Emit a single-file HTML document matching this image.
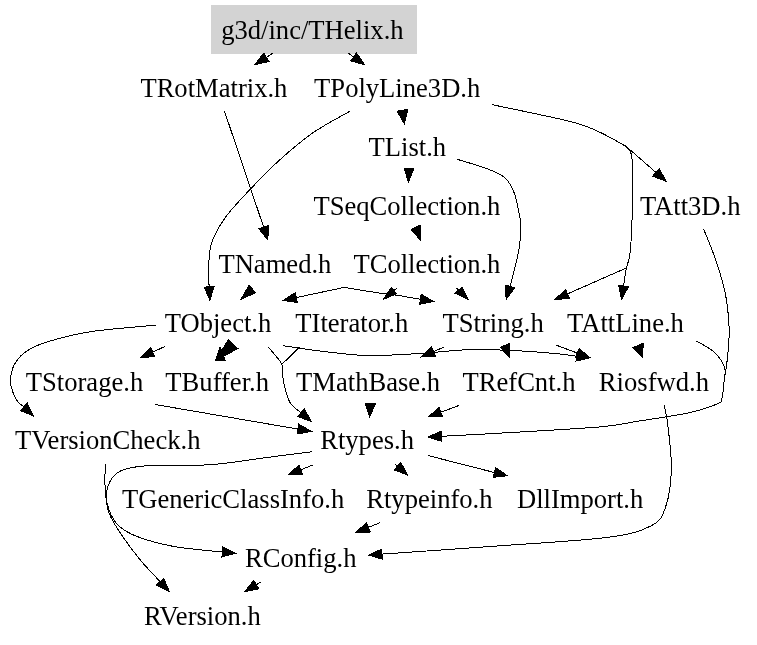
<!DOCTYPE html>
<html><head><meta charset="utf-8"><style>
html,body{margin:0;padding:0;background:#fff;width:757px;height:645px;overflow:hidden}
svg{display:block;will-change:transform}
text{font-family:"Liberation Serif",serif;font-size:26.6px;fill:#000}
path{fill:none;stroke:#000;stroke-width:1;shape-rendering:crispEdges}
polygon{fill:#000;stroke:#000;stroke-width:1;shape-rendering:crispEdges}
</style></head><body>
<svg width="757" height="645" viewBox="0 0 757 645">
<rect x="211" y="5" width="206" height="49" fill="#d3d3d3"/>
<text x="312.4" y="38.6" text-anchor="middle">g3d/inc/THelix.h</text>
<text x="213.9" y="96.6" text-anchor="middle">TRotMatrix.h</text>
<text x="397.2" y="96.6" text-anchor="middle">TPolyLine3D.h</text>
<text x="407.3" y="155.6" text-anchor="middle">TList.h</text>
<text x="406.9" y="214.6" text-anchor="middle">TSeqCollection.h</text>
<text x="690.2" y="214.6" text-anchor="middle">TAtt3D.h</text>
<text x="274.9" y="272.6" text-anchor="middle">TNamed.h</text>
<text x="426.9" y="272.6" text-anchor="middle">TCollection.h</text>
<text x="218.0" y="331.6" text-anchor="middle">TObject.h</text>
<text x="295.3" y="331.6">TIterator.h</text>
<text x="493.2" y="331.6" text-anchor="middle">TString.h</text>
<text x="625.5" y="331.6" text-anchor="middle">TAttLine.h</text>
<text x="84.5" y="390.6" text-anchor="middle">TStorage.h</text>
<text x="217.2" y="390.6" text-anchor="middle">TBuffer.h</text>
<text x="368.1" y="390.6" text-anchor="middle">TMathBase.h</text>
<text x="519.0" y="390.6" text-anchor="middle">TRefCnt.h</text>
<text x="653.9" y="390.6" text-anchor="middle">Riosfwd.h</text>
<text x="107.8" y="448.6" text-anchor="middle">TVersionCheck.h</text>
<text x="367.1" y="448.6" text-anchor="middle">Rtypes.h</text>
<text x="233.1" y="507.6" text-anchor="middle">TGenericClassInfo.h</text>
<text x="429.4" y="507.6" text-anchor="middle">Rtypeinfo.h</text>
<text x="580.1" y="507.6" text-anchor="middle">DllImport.h</text>
<text x="300.7" y="566.6" text-anchor="middle">RConfig.h</text>
<text x="202.4" y="624.6" text-anchor="middle">RVersion.h</text>
<path d="M272.8,53.2 L266.4,57.3"/>
<path d="M348.2,53.2 L353.5,56.9"/>
<path d="M224.5,111.2 L263.6,227.1"/>
<path d="M350.0,111.2 C343.8,114.8 324.7,124.6 312.8,132.9 C300.9,141.2 289.0,151.5 278.7,160.8 C268.4,170.1 259.6,179.4 250.8,188.7 C242.0,198.0 232.4,207.8 226.0,216.6 C219.6,225.4 214.9,234.2 212.1,241.4 C209.3,248.6 209.6,254.4 209.0,260.0 C208.4,265.6 208.5,270.5 208.5,275.0 C208.5,279.5 209.0,284.9 209.2,286.8"/>
<path d="M456.8,159.1 C464.8,162.2 494.4,168.5 504.9,177.9 C515.4,187.3 517.1,204.4 519.6,215.6 C522.1,226.8 520.7,235.2 519.6,245.0 C518.5,254.8 514.9,267.4 513.3,274.3 C511.7,281.2 510.4,284.4 509.9,286.4"/>
<path d="M492.3,104.7 C505.2,107.5 552.0,116.9 569.8,121.4 C587.6,125.9 589.7,127.7 599.1,131.9 C608.5,136.1 621.8,144.1 626.3,146.5"/>
<path d="M626.3,146.5 L655.9,172.4"/>
<path d="M626.3,146.5 C627.2,148.2 630.8,149.0 631.8,157.0 C632.8,165.0 632.8,179.3 632.6,194.7 C632.4,210.0 631.5,236.9 630.5,249.1 C629.5,261.3 627.0,264.9 626.3,268.0"/>
<path d="M626.3,268.0 L623.5,286.1"/>
<path d="M626.3,268.0 L567.5,293.9"/>
<path d="M703.5,228.9 C705.3,233.4 710.6,245.3 714.2,255.7 C717.8,266.1 722.4,279.5 724.9,291.4 C727.4,303.3 728.6,316.3 729.1,327.0 C729.6,337.7 728.5,346.7 727.7,355.6 C726.9,364.5 725.2,373.4 724.2,380.5 C723.2,387.6 723.1,394.5 722.0,398.4 C720.9,402.3 723.2,401.3 717.7,403.7 C712.2,406.1 702.9,409.7 689.2,412.7 C675.5,415.7 650.6,419.2 635.7,421.6 C620.8,424.0 619.3,425.2 600.0,426.9 C580.7,428.6 546.4,430.4 520.0,432.0 C493.6,433.6 454.5,435.6 441.4,436.3"/>
<path d="M695.6,340.6 C698.7,342.5 709.4,347.7 714.2,352.0 C719.0,356.3 722.4,362.1 724.2,366.3 C726.0,370.5 724.8,375.2 724.9,377.0"/>
<path d="M380.0,293.2 L344.1,287.4 L296.3,297.6"/>
<path d="M344.1,287.4 L380.0,293.2 L396.2,295.1 L420.4,299.2"/>
<path d="M396.6,288.5 L393.0,291.0"/>
<path d="M456.5,288.1 L459.0,290.5"/>
<path d="M165.1,346.4 L152.7,352.1"/>
<path d="M156.1,325.1 C145.0,326.2 107.9,329.0 89.8,331.8 C71.7,334.6 57.7,338.7 47.2,341.9 C36.7,345.1 32.1,347.5 26.9,350.9 C21.6,354.3 18.4,358.1 15.7,362.2 C13.0,366.3 11.6,371.5 10.8,375.6 C10.1,379.7 10.2,382.8 11.2,386.9 C12.2,391.0 14.7,397.0 16.8,400.3 C18.9,403.6 22.7,405.8 23.8,406.9"/>
<path d="M268.1,346.9 C270.4,349.8 279.5,359.4 281.9,364.3 C284.3,369.2 282.0,371.6 282.7,376.2 C283.4,380.8 284.6,387.4 286.0,392.0 C287.4,396.6 288.5,400.6 291.0,404.0 C293.5,407.4 299.4,411.2 301.1,412.7"/>
<path d="M299.4,347.3 L281.9,364.3"/>
<path d="M283.1,345.7 C289.2,346.6 306.1,349.4 320.0,351.0 C333.9,352.6 350.1,355.1 366.8,355.5 C383.5,355.9 403.5,354.4 420.0,353.5 C436.5,352.6 451.3,350.3 466.0,349.8 C480.7,349.3 493.5,349.7 508.3,350.3 C523.1,350.9 543.6,352.5 555.0,353.5 C566.4,354.5 573.0,355.7 576.6,356.2"/>
<path d="M443.6,347.2 L433.5,351.6"/>
<path d="M556.3,345.2 L577.4,353.1"/>
<path d="M154.6,404.4 L298.1,429.1"/>
<path d="M459.4,405.3 L440.9,412.2"/>
<path d="M664.2,405.5 C664.8,408.5 666.4,412.8 667.6,423.3 C668.8,433.8 671.7,454.6 671.4,468.5 C671.1,482.4 669.0,497.1 665.7,506.6 C662.4,516.1 661.4,520.5 651.5,525.6 C641.6,530.8 634.4,533.9 606.3,537.5 C578.2,541.1 520.1,544.2 482.7,547.0 C445.3,549.8 398.8,553.0 382.0,554.1"/>
<path d="M311.9,451.7 C304.5,452.6 284.5,455.2 267.6,457.4 C250.7,459.6 229.5,463.4 210.5,464.7 C191.5,466.0 167.7,464.6 153.4,465.4 C139.1,466.1 131.8,467.1 124.9,469.2 C118.0,471.3 115.3,473.9 112.2,478.0 C109.1,482.1 107.0,488.6 106.5,493.9 C106.0,499.2 107.0,504.5 109.0,509.8 C111.0,515.1 113.7,521.1 118.5,525.6 C123.3,530.1 128.6,533.3 137.6,536.7 C146.6,540.1 160.3,543.9 172.4,546.2 C184.5,548.6 201.7,549.8 210.0,550.8 C218.3,551.8 220.3,551.8 222.4,551.9"/>
<path d="M105.2,463.8 C105.2,468.0 104.6,480.9 105.2,489.1 C105.8,497.3 106.2,505.2 109.0,512.9 C111.8,520.6 116.4,527.2 121.7,535.1 C127.0,543.0 134.3,552.7 140.7,560.5 C147.1,568.3 156.9,578.1 160.2,581.7"/>
<path d="M313.5,464.7 L300.7,469.9"/>
<path d="M394.6,463.6 L398.0,466.5"/>
<path d="M427.9,455.5 L494.3,472.5"/>
<path d="M379.9,522.8 L368.3,527.4"/>
<path d="M261.2,581.7 L256.3,584.7"/>
<polygon points="255.0,64.6 269.1,61.5 263.7,53.1"/>
<polygon points="364.6,64.6 356.4,52.8 350.7,61.0"/>
<polygon points="267.9,239.9 268.3,225.5 258.8,228.7"/>
<polygon points="209.9,300.3 214.1,286.5 204.2,287.1"/>
<polygon points="404.3,123.8 397.1,111.2 408.0,109.4"/>
<polygon points="408.5,182.0 404.0,168.2 414.0,168.2"/>
<polygon points="420.9,240.9 411.1,229.3 420.6,225.1"/>
<polygon points="506.2,299.4 514.7,287.8 505.1,285.0"/>
<polygon points="666.1,181.3 659.2,168.6 652.6,176.2"/>
<polygon points="621.5,299.4 628.5,286.8 618.6,285.3"/>
<polygon points="555.2,299.4 569.6,298.5 565.5,289.4"/>
<polygon points="427.9,437.0 441.7,441.3 441.1,431.3"/>
<polygon points="240.9,299.5 249.1,285.2 255.4,292.7"/>
<polygon points="283.1,300.4 297.3,302.5 295.3,292.7"/>
<polygon points="433.7,301.5 421.2,294.3 419.6,304.2"/>
<polygon points="383.4,299.4 391.5,287.4 396.2,293.9"/>
<polygon points="468.5,299.7 455.0,293.2 461.9,287.4"/>
<polygon points="140.4,357.7 154.8,356.6 150.6,347.5"/>
<polygon points="215.6,360.7 228.6,339.4 237.8,348.5"/>
<polygon points="215.6,360.7 220.0,346.9 225.1,360.4"/>
<polygon points="33.7,416.1 27.3,403.2 20.4,410.5"/>
<polygon points="311.3,421.5 304.3,408.9 297.8,416.5"/>
<polygon points="590.0,357.8 577.2,351.2 576.0,361.1"/>
<polygon points="500.3,347.4 509.8,343.2 509.6,357.8"/>
<polygon points="421.1,357.0 435.5,356.2 431.5,347.0"/>
<polygon points="590.0,357.8 579.1,348.4 575.6,357.8"/>
<polygon points="642.1,357.4 632.8,347.7 643.5,343.1"/>
<polygon points="311.4,431.4 298.9,424.2 297.2,434.0"/>
<polygon points="369.5,416.7 365.1,403.2 375.9,403.2"/>
<polygon points="428.2,416.9 442.6,416.9 439.1,407.5"/>
<polygon points="368.5,555.1 382.3,559.1 381.6,549.2"/>
<polygon points="235.8,553.2 222.8,547.0 221.9,556.9"/>
<polygon points="169.3,591.6 163.8,578.3 156.5,585.0"/>
<polygon points="288.2,474.9 302.6,474.5 298.9,465.2"/>
<polygon points="407.6,475.1 400.8,462.4 394.2,469.9"/>
<polygon points="507.4,475.8 495.6,467.6 493.1,477.3"/>
<polygon points="355.8,532.4 370.2,532.0 366.5,522.8"/>
<polygon points="244.7,591.6 258.8,588.9 253.7,580.4"/>
</svg>
</body></html>
